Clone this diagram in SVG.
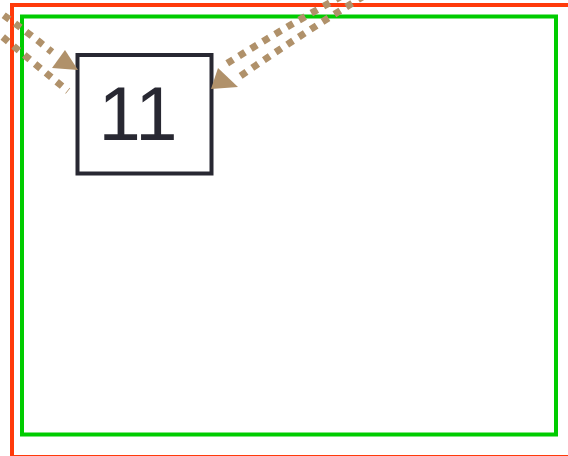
<svg xmlns="http://www.w3.org/2000/svg" width="568" height="456" viewBox="0 0 568 456">
<style>
.frame{fill:none;stroke-width:4}
.dot{fill:none;stroke:#b0916a;stroke-width:7;stroke-dasharray:7 7}
.head{fill:#b0916a}
.node rect{fill:#fff;stroke:#282832;stroke-width:4}
.node text{font-family:"Liberation Sans",Arial,sans-serif;font-size:76px;fill:#282832;text-anchor:middle}
</style>
<rect class="frame" x="12" y="5" width="580" height="452" stroke="#ff3a0a"/>
<rect class="frame" x="22" y="16.5" width="534" height="418" stroke="#00cc00"/>
<g id="node-11" class="node">
<rect x="77.5" y="55" width="134" height="118.5"/>
<text x="138" y="140">11</text>
</g>
<g id="connectors">
<path class="dot" d="M-8,7 Q25,30 52,52"/>
<path class="dot" d="M-8,28 Q30,60 68,91"/>
<polygon class="head" points="78,70 52,68 65,50"/>
<path class="dot" d="M342,-4 Q280,30 223,66"/>
<path class="dot" d="M364,-4 Q300,35 236,79"/>
<polygon class="head" points="211,89 218,68 238,87"/>
</g>
</svg>
